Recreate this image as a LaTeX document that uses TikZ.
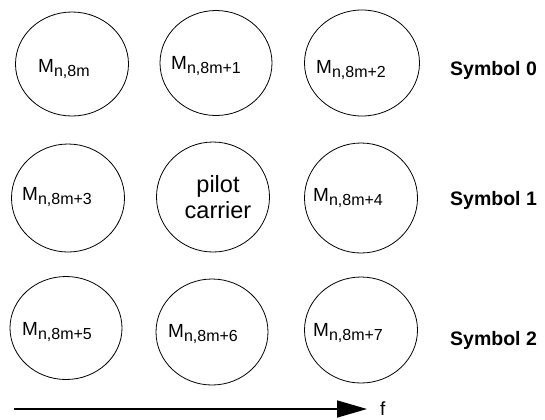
\documentclass[tikz,border=0pt]{standalone}
\usepackage{fontspec}
\setmainfont{Liberation Sans}
\usetikzlibrary{shapes.geometric,arrows.meta}
\begin{document}
\begin{tikzpicture}[x=1bp,y=-1bp,
  cir/.style={draw,ellipse,line width=0.8bp,inner sep=0pt},
  lbl/.style={anchor=base west,inner sep=0pt,font=\fontsize{19bp}{22bp}\selectfont},
  sym/.style={anchor=base west,inner sep=0pt,font=\fontsize{19.5bp}{22bp}\selectfont\bfseries}]
\useasboundingbox (0,0) rectangle (545,419);
\newcommand{\Msub}[1]{M\raisebox{-4.5bp}{\fontsize{16bp}{18bp}\selectfont n,#1}}
% row 1
\node[cir,minimum width=113bp,minimum height=104bp] (c1) at (72,64) {};
\node[cir,minimum width=112bp,minimum height=105bp] (c2) at (216,63) {};
\node[cir,minimum width=115bp,minimum height=106bp] (c3) at (362,63) {};
% row 2
\node[cir,minimum width=113bp,minimum height=108bp] (c4) at (68,198) {};
\node[cir,minimum width=113bp,minimum height=110bp] (c5) at (213,197) {};
\node[cir,minimum width=113bp,minimum height=110bp] (c6) at (361,198) {};
% row 3
\node[cir,minimum width=112bp,minimum height=103bp] (c7) at (66,328) {};
\node[cir,minimum width=112bp,minimum height=106bp] (c8) at (212,332) {};
\node[cir,minimum width=113bp,minimum height=106bp] (c9) at (361,330) {};
% labels
\node[lbl] (t1) at (38,72) {\Msub{8m}};
\node[lbl] (t2) at (171,69) {\Msub{8m+1}};
\node[lbl] (t3) at (316,73) {\Msub{8m+2}};
\node[lbl] (t4) at (22,200) {\Msub{8m+3}};
\node[align=center,inner sep=0pt,font=\fontsize{23.5bp}{26bp}\selectfont] (t5) at (218,197) {pilot\\carrier};
\node[lbl] (t6) at (313,201) {\Msub{8m+4}};
\node[lbl] (t7) at (22,335) {\Msub{8m+5}};
\node[lbl] (t8) at (168,337) {\Msub{8m+6}};
\node[lbl] (t9) at (313,336) {\Msub{8m+7}};
% symbols
\node[sym] (s0) at (450,75) {Symbol 0};
\node[sym] (s1) at (450,205) {Symbol 1};
\node[sym] (s2) at (450,345) {Symbol 2};
% frequency axis
\coordinate (a0) at (14,409);
\coordinate (a1) at (367,409);
\draw[line width=1.6bp,-{Triangle[length=30bp,width=17bp]}] (a0) -- (a1);
\node[lbl] (f) at (380,415) {f};
\end{tikzpicture}
\end{document}
